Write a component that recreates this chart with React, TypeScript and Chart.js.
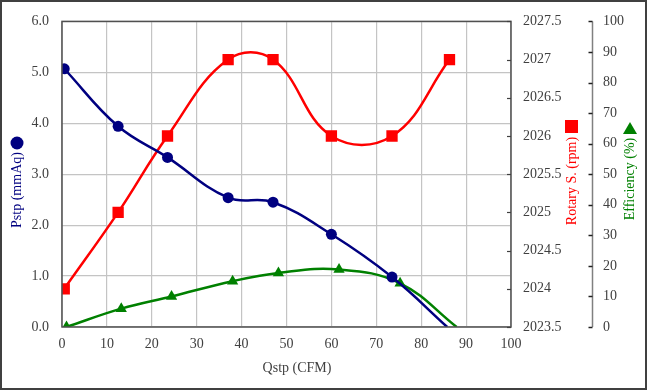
import React, { useEffect, useRef } from "react";
import { Chart, registerables } from "chart.js";

Chart.register(...registerables);

// ---- Data ----
const pstpQ = [0.5, 12.5, 23.5, 37, 47, 60, 73.5, 85.8];
const pstpVals = [5.07, 3.94, 3.33, 2.54, 2.45, 1.82, 0.98, 0];
const pstpMarkers = [true, true, true, true, true, true, true, false];

const rpmQ = [0.5, 12.5, 23.5, 37, 47, 60, 73.5, 86.3];
const rpmVals = [2024, 2025, 2026, 2027, 2027, 2026, 2026, 2027];

const effQ = [1, 13.2, 24.4, 38, 48.2, 61.7, 75.3, 87.9];
const effVals = [0, 6, 10, 15, 17.7, 18.8, 14.3, 0];
const effMarkers = [true, true, true, true, true, true, true, false];

const xTitle = "Qstp (CFM)";
const pstpTitle = "Pstp (mmAq)";
const rpmTitle = "Rotary S. (rpm)";
const effTitle = "Efficiency (%)";

const NAVY = "#000080";
const RED = "#ff0000";
const GREEN = "#008000";
const TEXT = "#404040";
const FONT = "Liberation Serif";

const zip = (xs: number[], ys: number[]) => xs.map((x, i) => ({ x, y: ys[i] }));

const decorPlugin = {
  id: "decor",
  afterDraw(chart: any) {
    const { ctx, chartArea } = chart;
    const ca = chartArea;
    ctx.save();
    // plot frame
    ctx.strokeStyle = "#505050";
    ctx.lineWidth = 1.5;
    ctx.strokeRect(ca.left, ca.top, ca.right - ca.left, ca.bottom - ca.top);

    // rpm inward ticks
    const rs = chart.scales.yRpm;
    ctx.strokeStyle = "#404040";
    ctx.lineWidth = 1.2;
    rs.ticks.forEach((t: any) => {
      const y = Math.round(rs.getPixelForValue(t.value)) + 0.5;
      ctx.beginPath();
      ctx.moveTo(ca.right - 4, y);
      ctx.lineTo(ca.right, y);
      ctx.stroke();
    });

    // efficiency axis line + ticks
    const es = chart.scales.yEff;
    const ex = es.left + 0.5;
    ctx.strokeStyle = "#808080";
    ctx.lineWidth = 1.5;
    ctx.beginPath();
    ctx.moveTo(ex, ca.top);
    ctx.lineTo(ex, ca.bottom);
    ctx.stroke();
    ctx.strokeStyle = "#202020";
    ctx.lineWidth = 1.5;
    es.ticks.forEach((t: any) => {
      const y = Math.round(es.getPixelForValue(t.value)) + 0.5;
      ctx.beginPath();
      ctx.moveTo(ex - 4, y);
      ctx.lineTo(ex, y);
      ctx.stroke();
    });

    // titles
    ctx.font = `14px "${FONT}"`;
    ctx.textAlign = "center";
    ctx.textBaseline = "middle";
    ctx.fillStyle = TEXT;
    ctx.fillText(xTitle, 297, 368);

    const vText = (txt: string, x: number, y: number, color: string) => {
      ctx.save();
      ctx.translate(x, y);
      ctx.rotate(-Math.PI / 2);
      ctx.fillStyle = color;
      ctx.fillText(txt, 0, 0);
      ctx.restore();
    };
    vText(pstpTitle, 17, 190, NAVY);
    ctx.fillStyle = NAVY;
    ctx.beginPath();
    ctx.arc(17, 143, 6.5, 0, Math.PI * 2);
    ctx.fill();

    vText(rpmTitle, 572, 181, RED);
    ctx.fillStyle = RED;
    ctx.fillRect(565, 120, 13, 13);

    vText(effTitle, 630, 179, GREEN);
    ctx.fillStyle = GREEN;
    ctx.beginPath();
    ctx.moveTo(630, 122);
    ctx.lineTo(637, 134);
    ctx.lineTo(623, 134);
    ctx.closePath();
    ctx.fill();

    // outer border
    ctx.strokeStyle = "#404040";
    ctx.lineWidth = 2;
    ctx.strokeRect(1, 1, chart.width - 2, chart.height - 2);
    ctx.restore();
  },
};

export default function App() {
  const ref = useRef<HTMLCanvasElement>(null);

  useEffect(() => {
    document.body.style.margin = "0";
    const canvas = ref.current!;
    const tickFont = { family: FONT, size: 14 };
    const chart = new Chart(canvas, {
      type: "line",
      data: {
        datasets: [
          {
            label: "Pstp",
            data: zip(pstpQ, pstpVals),
            yAxisID: "y",
            borderColor: NAVY,
            backgroundColor: NAVY,
            borderWidth: 2.5,
            tension: 0.4,
            pointStyle: "circle",
            pointRadius: pstpMarkers.map((m) => (m ? 5.5 : 0)),
            pointBorderWidth: 0,
          },
          {
            label: "Rotary",
            data: zip(rpmQ, rpmVals),
            yAxisID: "yRpm",
            borderColor: RED,
            backgroundColor: RED,
            borderWidth: 2.5,
            tension: 0.4,
            pointStyle: "rect",
            pointRadius: 8,
            pointBorderWidth: 0,
          },
          {
            label: "Efficiency",
            data: zip(effQ, effVals),
            yAxisID: "yEff",
            borderColor: GREEN,
            backgroundColor: GREEN,
            borderWidth: 2.5,
            tension: 0.4,
            pointStyle: "triangle",
            pointRadius: effMarkers.map((m) => (m ? 6.5 : 0)),
            pointBorderWidth: 0,
          },
        ],
      },
      options: {
        responsive: false,
        animation: false,
        layout: { padding: { top: 19, left: 0, right: 0, bottom: 0 } },
        plugins: { legend: { display: false }, tooltip: { enabled: false } },
        scales: {
          x: {
            type: "linear",
            min: 0,
            max: 100,
            ticks: { stepSize: 10, color: TEXT, font: tickFont, padding: 9 },
            grid: { color: "#c4c4c4", lineWidth: 1.2, drawTicks: false },
            border: { display: false },
            afterFit: (s: any) => {
              s.height = 63;
            },
          },
          y: {
            position: "left",
            min: 0,
            max: 6,
            ticks: {
              stepSize: 1,
              color: TEXT,
              font: tickFont,
              padding: 13,
              callback: (v: any) => Number(v).toFixed(1),
            },
            grid: { color: "#c4c4c4", lineWidth: 1.2, drawTicks: false },
            border: { display: false },
            afterFit: (s: any) => {
              s.width = 62;
            },
          },
          yRpm: {
            position: "right",
            weight: 0,
            min: 2023.5,
            max: 2027.5,
            ticks: {
              stepSize: 0.5,
              color: TEXT,
              font: tickFont,
              padding: 12,
              callback: (v: any) => String(Number(v)),
            },
            grid: { drawOnChartArea: false, drawTicks: false },
            border: { display: false },
            afterFit: (s: any) => {
              s.width = 81;
            },
          },
          yEff: {
            position: "right",
            weight: 1,
            min: 0,
            max: 100,
            ticks: { stepSize: 10, color: TEXT, font: tickFont, padding: 11 },
            grid: { drawOnChartArea: false, drawTicks: false },
            border: { display: false },
            afterFit: (s: any) => {
              s.width = 55;
            },
          },
        },
      } as any,
      plugins: [decorPlugin],
    });
    return () => chart.destroy();
  }, []);

  return (
    <div style={{ width: 647, height: 390 }}>
      <canvas ref={ref} width={647} height={390} style={{ display: "block" }} />
    </div>
  );
}
